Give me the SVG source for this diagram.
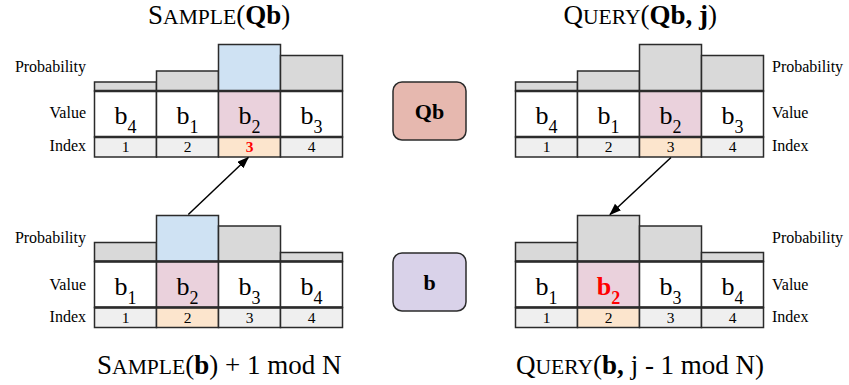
<svg xmlns="http://www.w3.org/2000/svg" width="849" height="385" viewBox="0 0 849 385">
  <style>
    text { font-family: "Liberation Serif", "Times New Roman", serif; fill: #000; }
    .cell { stroke: #2b2b2b; stroke-width: 1.5; }
    .prob { fill: #d9d9d9; }
    .sel { fill: #cfe2f3; }
    .val { fill: #ffffff; }
    .valsel { fill: #ead1dc; }
    .idx { fill: #efefef; }
    .idxsel { fill: #fce5cd; }
    .rule { stroke: #2b2b2b; stroke-width: 2.5; }
    .lab { font-size: 16px; }
    .labr { font-size: 16px; text-anchor: end; }
    .bv { font-size: 26px; text-anchor: middle; }
    .sub { font-size: 18px; }
    .num { font-size: 15.5px; text-anchor: middle; }
    .title { font-size: 27px; }
    .sc { font-size: 21.6px; }
    .bold { font-weight: bold; }
    .red { fill: #ff0000; }
    .node { stroke: #2b2b2b; stroke-width: 1.5; }
    .ntext { font-size: 22px; font-weight: bold; text-anchor: middle; }
    .edge { stroke: #000; stroke-width: 1.5; fill: none; }
  </style>
  <defs>
    <marker id="arrow" markerUnits="userSpaceOnUse" markerWidth="12" markerHeight="10" refX="11" refY="4.5" orient="auto">
      <path d="M0,0 L12,4.5 L0,9 Z" fill="#000"/>
    </marker>
  </defs>

  <!-- titles -->
  <text class="title" x="148" y="24.3">S<tspan class="sc">AMPLE</tspan>(<tspan class="bold">Qb</tspan>)</text>
  <text class="title" x="563.5" y="24.3">Q<tspan class="sc">UERY</tspan>(<tspan class="bold">Qb, j</tspan>)</text>
  <text class="title" x="97" y="374">S<tspan class="sc">AMPLE</tspan>(<tspan class="bold">b</tspan>) + 1 mod N</text>
  <text class="title" x="516" y="374">Q<tspan class="sc">UERY</tspan>(<tspan class="bold">b,</tspan> j - 1 mod N)</text>

  <!-- distribution of Qb, sampled -->
  <g id="sample-qb">
    <rect class="cell prob" x="94.5" y="82" width="62" height="9"/>
    <rect class="cell prob" x="156.5" y="71" width="62" height="20"/>
    <rect class="cell sel" x="218.5" y="44.5" width="62" height="46.5"/>
    <rect class="cell prob" x="280.5" y="55.5" width="62" height="35.5"/>
    <rect class="cell val" x="94.5" y="91" width="62" height="46"/>
    <rect class="cell val" x="156.5" y="91" width="62" height="46"/>
    <rect class="cell valsel" x="218.5" y="91" width="62" height="46"/>
    <rect class="cell val" x="280.5" y="91" width="62" height="46"/>
    <rect class="cell idx" x="94.5" y="137" width="62" height="20"/>
    <rect class="cell idx" x="156.5" y="137" width="62" height="20"/>
    <rect class="cell idxsel" x="218.5" y="137" width="62" height="20"/>
    <rect class="cell idx" x="280.5" y="137" width="62" height="20"/>
    <line class="rule" x1="94.5" y1="91" x2="342.5" y2="91"/>
    <line class="rule" x1="94.5" y1="137" x2="342.5" y2="137"/>
    <text class="bv" x="125.5" y="124">b<tspan class="sub" dy="9">4</tspan></text>
    <text class="bv" x="187.5" y="124">b<tspan class="sub" dy="9">1</tspan></text>
    <text class="bv" x="249.5" y="124">b<tspan class="sub" dy="9">2</tspan></text>
    <text class="bv" x="311.5" y="124">b<tspan class="sub" dy="9">3</tspan></text>
    <text class="num" x="125.5" y="152">1</text>
    <text class="num" x="187.5" y="152">2</text>
    <text class="num bold red" x="249.5" y="152">3</text>
    <text class="num" x="311.5" y="152">4</text>
    <text class="labr" x="86" y="72">Probability</text>
    <text class="labr" x="86" y="118">Value</text>
    <text class="labr" x="86" y="151">Index</text>
  </g>

  <!-- distribution of Qb, queried -->
  <g id="query-qb">
    <rect class="cell prob" x="515.5" y="82" width="62" height="9"/>
    <rect class="cell prob" x="577.5" y="71" width="62" height="20"/>
    <rect class="cell prob" x="639.5" y="44.5" width="62" height="46.5"/>
    <rect class="cell prob" x="701.5" y="55.5" width="62" height="35.5"/>
    <rect class="cell val" x="515.5" y="91" width="62" height="46"/>
    <rect class="cell val" x="577.5" y="91" width="62" height="46"/>
    <rect class="cell valsel" x="639.5" y="91" width="62" height="46"/>
    <rect class="cell val" x="701.5" y="91" width="62" height="46"/>
    <rect class="cell idx" x="515.5" y="137" width="62" height="20"/>
    <rect class="cell idx" x="577.5" y="137" width="62" height="20"/>
    <rect class="cell idxsel" x="639.5" y="137" width="62" height="20"/>
    <rect class="cell idx" x="701.5" y="137" width="62" height="20"/>
    <line class="rule" x1="515.5" y1="91" x2="763.5" y2="91"/>
    <line class="rule" x1="515.5" y1="137" x2="763.5" y2="137"/>
    <text class="bv" x="546.5" y="124">b<tspan class="sub" dy="9">4</tspan></text>
    <text class="bv" x="608.5" y="124">b<tspan class="sub" dy="9">1</tspan></text>
    <text class="bv" x="670.5" y="124">b<tspan class="sub" dy="9">2</tspan></text>
    <text class="bv" x="732.5" y="124">b<tspan class="sub" dy="9">3</tspan></text>
    <text class="num" x="546.5" y="152">1</text>
    <text class="num" x="608.5" y="152">2</text>
    <text class="num" x="670.5" y="152">3</text>
    <text class="num" x="732.5" y="152">4</text>
    <text class="lab" x="772" y="72">Probability</text>
    <text class="lab" x="772" y="118">Value</text>
    <text class="lab" x="772" y="151">Index</text>
  </g>

  <!-- distribution of b, sampled -->
  <g id="sample-b">
    <rect class="cell prob" x="94.5" y="242.5" width="62" height="19"/>
    <rect class="cell sel" x="156.5" y="215.5" width="62" height="46"/>
    <rect class="cell prob" x="218.5" y="226" width="62" height="35.5"/>
    <rect class="cell prob" x="280.5" y="252.5" width="62" height="9"/>
    <rect class="cell val" x="94.5" y="261.5" width="62" height="46"/>
    <rect class="cell valsel" x="156.5" y="261.5" width="62" height="46"/>
    <rect class="cell val" x="218.5" y="261.5" width="62" height="46"/>
    <rect class="cell val" x="280.5" y="261.5" width="62" height="46"/>
    <rect class="cell idx" x="94.5" y="307.5" width="62" height="20"/>
    <rect class="cell idxsel" x="156.5" y="307.5" width="62" height="20"/>
    <rect class="cell idx" x="218.5" y="307.5" width="62" height="20"/>
    <rect class="cell idx" x="280.5" y="307.5" width="62" height="20"/>
    <line class="rule" x1="94.5" y1="261.5" x2="342.5" y2="261.5"/>
    <line class="rule" x1="94.5" y1="307.5" x2="342.5" y2="307.5"/>
    <text class="bv" x="125.5" y="294.5">b<tspan class="sub" dy="9">1</tspan></text>
    <text class="bv" x="187.5" y="294.5">b<tspan class="sub" dy="9">2</tspan></text>
    <text class="bv" x="249.5" y="294.5">b<tspan class="sub" dy="9">3</tspan></text>
    <text class="bv" x="311.5" y="294.5">b<tspan class="sub" dy="9">4</tspan></text>
    <text class="num" x="125.5" y="322.5">1</text>
    <text class="num" x="187.5" y="322.5">2</text>
    <text class="num" x="249.5" y="322.5">3</text>
    <text class="num" x="311.5" y="322.5">4</text>
    <text class="labr" x="86" y="243">Probability</text>
    <text class="labr" x="86" y="290">Value</text>
    <text class="labr" x="86" y="322">Index</text>
  </g>

  <!-- distribution of b, queried -->
  <g id="query-b">
    <rect class="cell prob" x="515.5" y="242.5" width="62" height="19"/>
    <rect class="cell prob" x="577.5" y="215.5" width="62" height="46"/>
    <rect class="cell prob" x="639.5" y="226" width="62" height="35.5"/>
    <rect class="cell prob" x="701.5" y="252.5" width="62" height="9"/>
    <rect class="cell val" x="515.5" y="261.5" width="62" height="46"/>
    <rect class="cell valsel" x="577.5" y="261.5" width="62" height="46"/>
    <rect class="cell val" x="639.5" y="261.5" width="62" height="46"/>
    <rect class="cell val" x="701.5" y="261.5" width="62" height="46"/>
    <rect class="cell idx" x="515.5" y="307.5" width="62" height="20"/>
    <rect class="cell idxsel" x="577.5" y="307.5" width="62" height="20"/>
    <rect class="cell idx" x="639.5" y="307.5" width="62" height="20"/>
    <rect class="cell idx" x="701.5" y="307.5" width="62" height="20"/>
    <line class="rule" x1="515.5" y1="261.5" x2="763.5" y2="261.5"/>
    <line class="rule" x1="515.5" y1="307.5" x2="763.5" y2="307.5"/>
    <text class="bv" x="546.5" y="294.5">b<tspan class="sub" dy="9">1</tspan></text>
    <text class="bv bold red" x="608.5" y="294.5">b<tspan class="sub" dy="9">2</tspan></text>
    <text class="bv" x="670.5" y="294.5">b<tspan class="sub" dy="9">3</tspan></text>
    <text class="bv" x="732.5" y="294.5">b<tspan class="sub" dy="9">4</tspan></text>
    <text class="num" x="546.5" y="322.5">1</text>
    <text class="num" x="608.5" y="322.5">2</text>
    <text class="num" x="670.5" y="322.5">3</text>
    <text class="num" x="732.5" y="322.5">4</text>
    <text class="lab" x="772" y="243">Probability</text>
    <text class="lab" x="772" y="290">Value</text>
    <text class="lab" x="772" y="322">Index</text>
  </g>

  <!-- centre nodes -->
  <g id="node-qb">
    <rect class="node" x="393" y="82" width="73" height="58" rx="9" fill="#e6b8af"/>
    <text class="ntext" x="429.5" y="119">Qb</text>
  </g>
  <g id="node-b">
    <rect class="node" x="393" y="253" width="73" height="58" rx="9" fill="#d9d2e9"/>
    <text class="ntext" x="429.5" y="290">b</text>
  </g>

  <!-- connectors -->
  <g id="connectors">
    <line class="edge" x1="188.3" y1="214.5" x2="248.3" y2="157.5" marker-end="url(#arrow)"/>
    <line class="edge" x1="671" y1="157.5" x2="610" y2="214.5" marker-end="url(#arrow)"/>
  </g>
</svg>
